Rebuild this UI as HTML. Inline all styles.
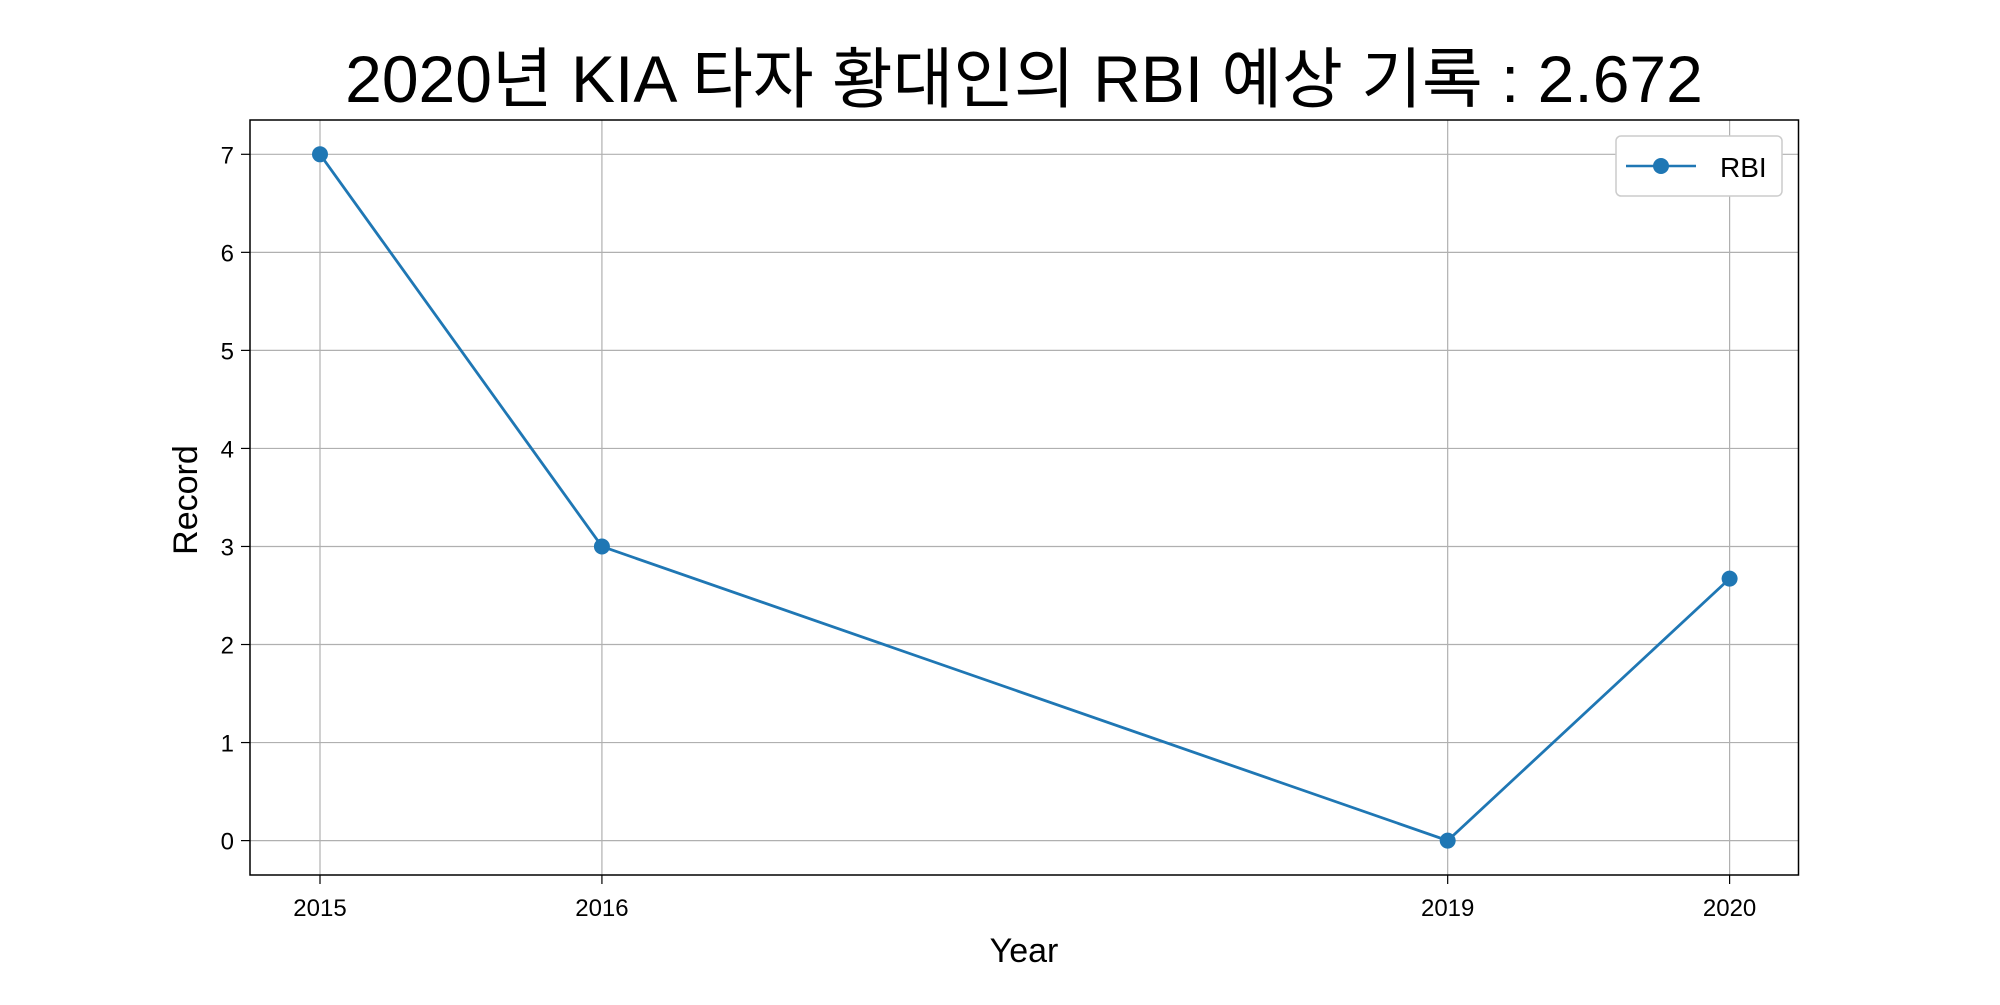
<!DOCTYPE html>
<html><head><meta charset="utf-8"><style>
body{margin:0;background:#fff;}
svg{font-family:"Liberation Sans","Noto Sans CJK KR",sans-serif;}
</style></head><body>
<svg id="chart" width="2000" height="1000" viewBox="0 0 2000 1000" xmlns="http://www.w3.org/2000/svg">
<rect width="2000" height="1000" fill="#fff"/>
<text x="1024" y="102" font-size="66" text-anchor="middle" fill="#000">2020년 KIA 타자 황대인의 RBI 예상 기록 : 2.672</text>
<g id="grid"></g>
<g id="marks"></g>
<rect x="250" y="120" width="1548.5" height="755" fill="none" stroke="#000" stroke-width="1.5"/>
<g id="ticks"></g>
<text x="1024" y="962" font-size="34" text-anchor="middle">Year</text>
<text x="197" y="500" font-size="34" text-anchor="middle" transform="rotate(-90 197 500)">Record</text>
<g>
<rect x="1616" y="136" width="166" height="60" rx="5" fill="#fff" stroke="#ccc" stroke-width="1.5"/>
<line x1="1626" y1="166" x2="1696" y2="166" stroke="#1f77b4" stroke-width="2.5"/>
<circle cx="1661" cy="166" r="8" fill="#1f77b4"/>
<text x="1720" y="177" font-size="28">RBI</text>
</g>
</svg>
<script>
const years = [2015, 2016, 2019, 2020];
const rbi = [7, 3, 0, 2.672];
const yTicks = [0, 1, 2, 3, 4, 5, 6, 7];
const NS = "http://www.w3.org/2000/svg";
function xs(v){return 320 + (v-2015)*(1729.6-320)/5;}
function ys(v){return 840.6 - v*(840.6-154.3)/7;}
function mk(t,a,p){const e=document.createElementNS(NS,t);for(const k in a)e.setAttribute(k,a[k]);p.appendChild(e);return e;}
const grid=document.getElementById('grid'), ticks=document.getElementById('ticks'), marks=document.getElementById('marks');
years.forEach(y=>{
  const g=mk('line',{x1:xs(y),x2:xs(y),y1:120,y2:875,stroke:'#b0b0b0','stroke-width':1.2},grid);
  
  
  mk('line',{x1:xs(y),x2:xs(y),y1:875,y2:884,stroke:'#000','stroke-width':1.2},ticks);
  const t=mk('text',{x:xs(y),y:916,'font-size':24,'text-anchor':'middle'},ticks);
  t.textContent=y;
  
  
});
yTicks.forEach(v=>{
  const g=mk('line',{x1:250,x2:1798.5,y1:ys(v),y2:ys(v),stroke:'#b0b0b0','stroke-width':1.2},grid);
  
  
  mk('line',{x1:241,x2:250,y1:ys(v),y2:ys(v),stroke:'#000','stroke-width':1.2},ticks);
  const t=mk('text',{x:234,y:ys(v)+9,'font-size':24,'text-anchor':'end'},ticks);
  t.textContent=v;
  
  
});
const pl=mk('polyline',{points:years.map((y,i)=>xs(y)+','+ys(rbi[i])).join(' '),fill:'none',stroke:'#1f77b4','stroke-width':2.8},marks);


years.forEach((y,i)=>{
  const c=mk('circle',{cx:xs(y),cy:ys(rbi[i]),r:8,fill:'#1f77b4'},marks);
  
  
});
</script>
</body></html>
